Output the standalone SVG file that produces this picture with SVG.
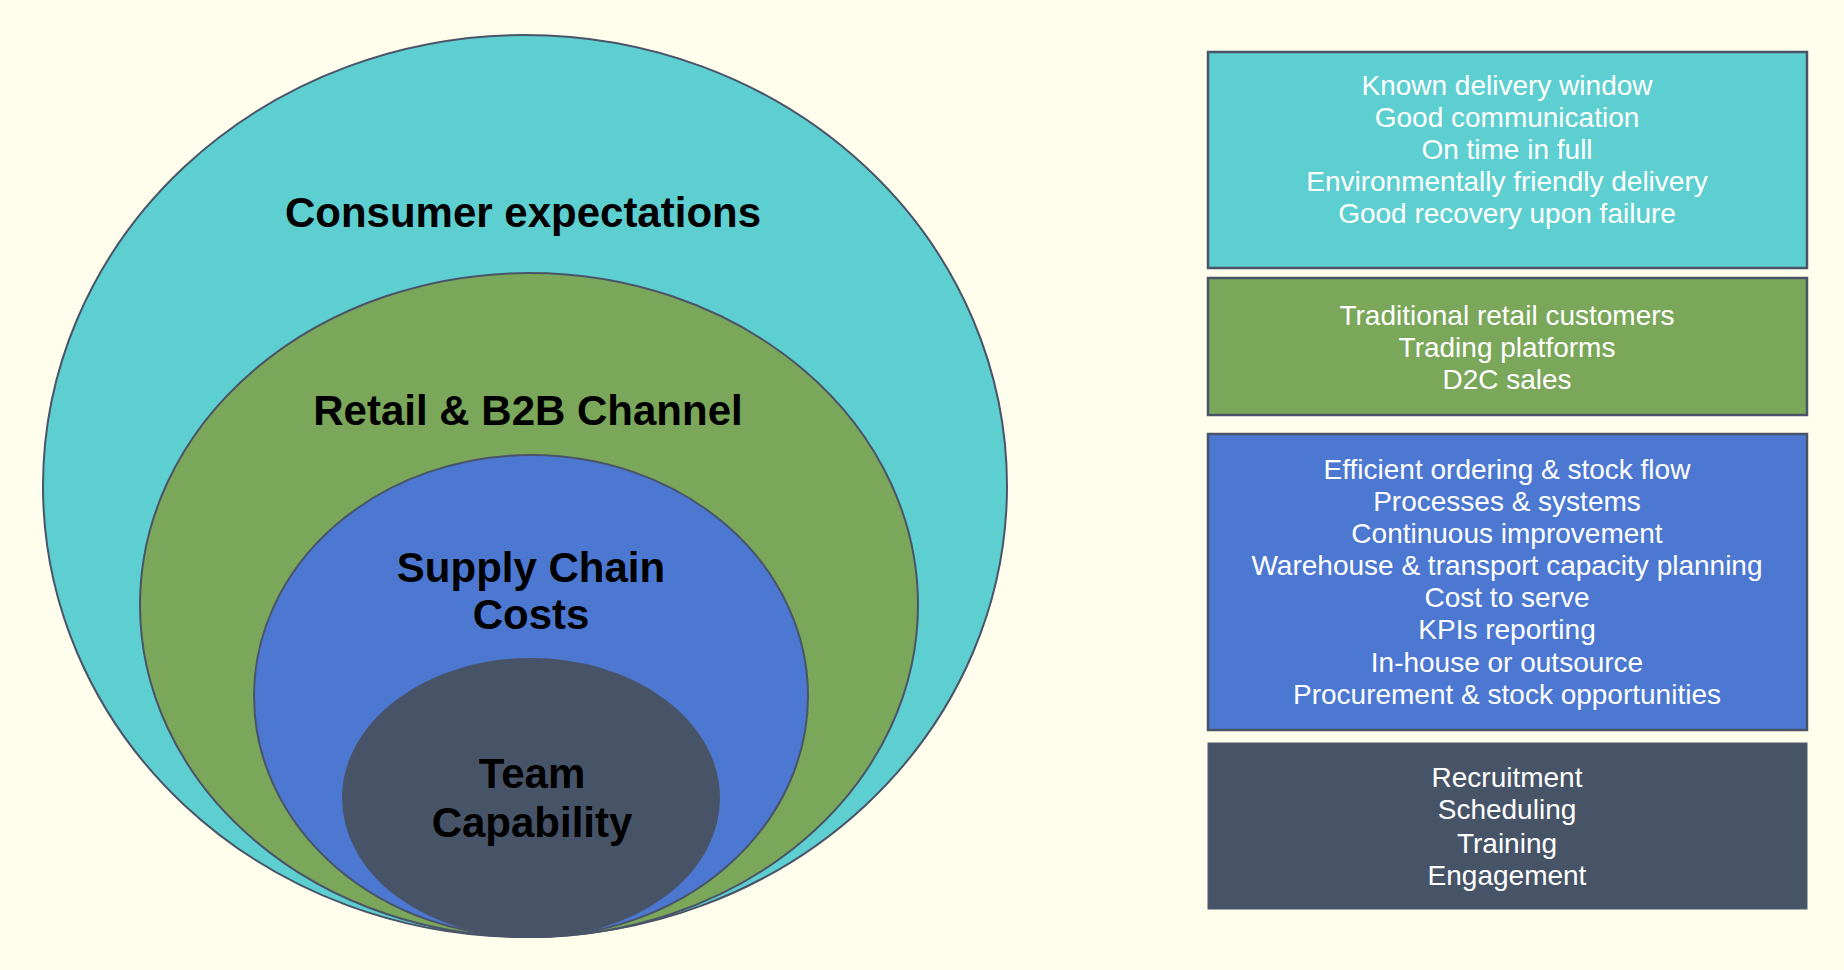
<svg xmlns="http://www.w3.org/2000/svg" width="1844" height="970" viewBox="0 0 1844 970">
<style>
.e{stroke:#4a5468;stroke-width:2}
.b{stroke:#4a5468;stroke-width:2.5}
.t{font-family:"Liberation Sans",Arial,sans-serif;font-weight:bold;font-size:42px;fill:#000;text-anchor:middle}
.w{font-family:"Liberation Sans",Arial,sans-serif;font-size:28px;fill:#fff;text-anchor:middle}
</style>
<rect width="1844" height="970" fill="#fffdeb"/>
<g id="consumer">
<ellipse class="e" cx="525" cy="486" rx="482" ry="451" fill="#5ecfd0"/>
<text class="t" x="523" y="227">Consumer expectations</text>
</g>
<g id="retail">
<ellipse class="e" cx="529" cy="605" rx="389" ry="332" fill="#7aa75a"/>
<text class="t" x="528" y="425">Retail &amp; B2B Channel</text>
</g>
<g id="supply">
<ellipse class="e" cx="531" cy="696" rx="277" ry="241" fill="#4c78d2"/>
<text class="t" x="531" y="582">Supply Chain</text>
<text class="t" x="531" y="629">Costs</text>
</g>
<g id="team">
<ellipse class="e" cx="531" cy="798" rx="188" ry="139" fill="#475468"/>
<text class="t" x="532" y="788">Team</text>
<text class="t" x="532" y="837">Capability</text>
</g>
<g id="box-consumer">
<rect class="b" x="1208" y="52" width="599" height="216" fill="#5ecfd0"/>
<text class="w" x="1507" y="95">Known delivery window</text>
<text class="w" x="1507" y="127">Good communication</text>
<text class="w" x="1507" y="159">On time in full</text>
<text class="w" x="1507" y="191">Environmentally friendly delivery</text>
<text class="w" x="1507" y="223">Good recovery upon failure</text>
</g>
<g id="box-retail">
<rect class="b" x="1208" y="278" width="599" height="137" fill="#7aa75a"/>
<text class="w" x="1507" y="325">Traditional retail customers</text>
<text class="w" x="1507" y="357">Trading platforms</text>
<text class="w" x="1507" y="389">D2C sales</text>
</g>
<g id="box-supply">
<rect class="b" x="1208" y="434" width="599" height="296" fill="#4c78d2"/>
<text class="w" x="1507" y="479">Efficient ordering &amp; stock flow</text>
<text class="w" x="1507" y="511">Processes &amp; systems</text>
<text class="w" x="1507" y="543">Continuous improvement</text>
<text class="w" x="1507" y="575">Warehouse &amp; transport capacity planning</text>
<text class="w" x="1507" y="607">Cost to serve</text>
<text class="w" x="1507" y="639">KPIs reporting</text>
<text class="w" x="1507" y="672">In-house or outsource</text>
<text class="w" x="1507" y="704">Procurement &amp; stock opportunities</text>
</g>
<g id="box-team">
<rect x="1208" y="743" width="599" height="166" fill="#475468" stroke="#4f5a6d" stroke-width="1"/>
<text class="w" x="1507" y="787">Recruitment</text>
<text class="w" x="1507" y="819">Scheduling</text>
<text class="w" x="1507" y="853">Training</text>
<text class="w" x="1507" y="885">Engagement</text>
</g>
<g id="connectors"/>
</svg>
